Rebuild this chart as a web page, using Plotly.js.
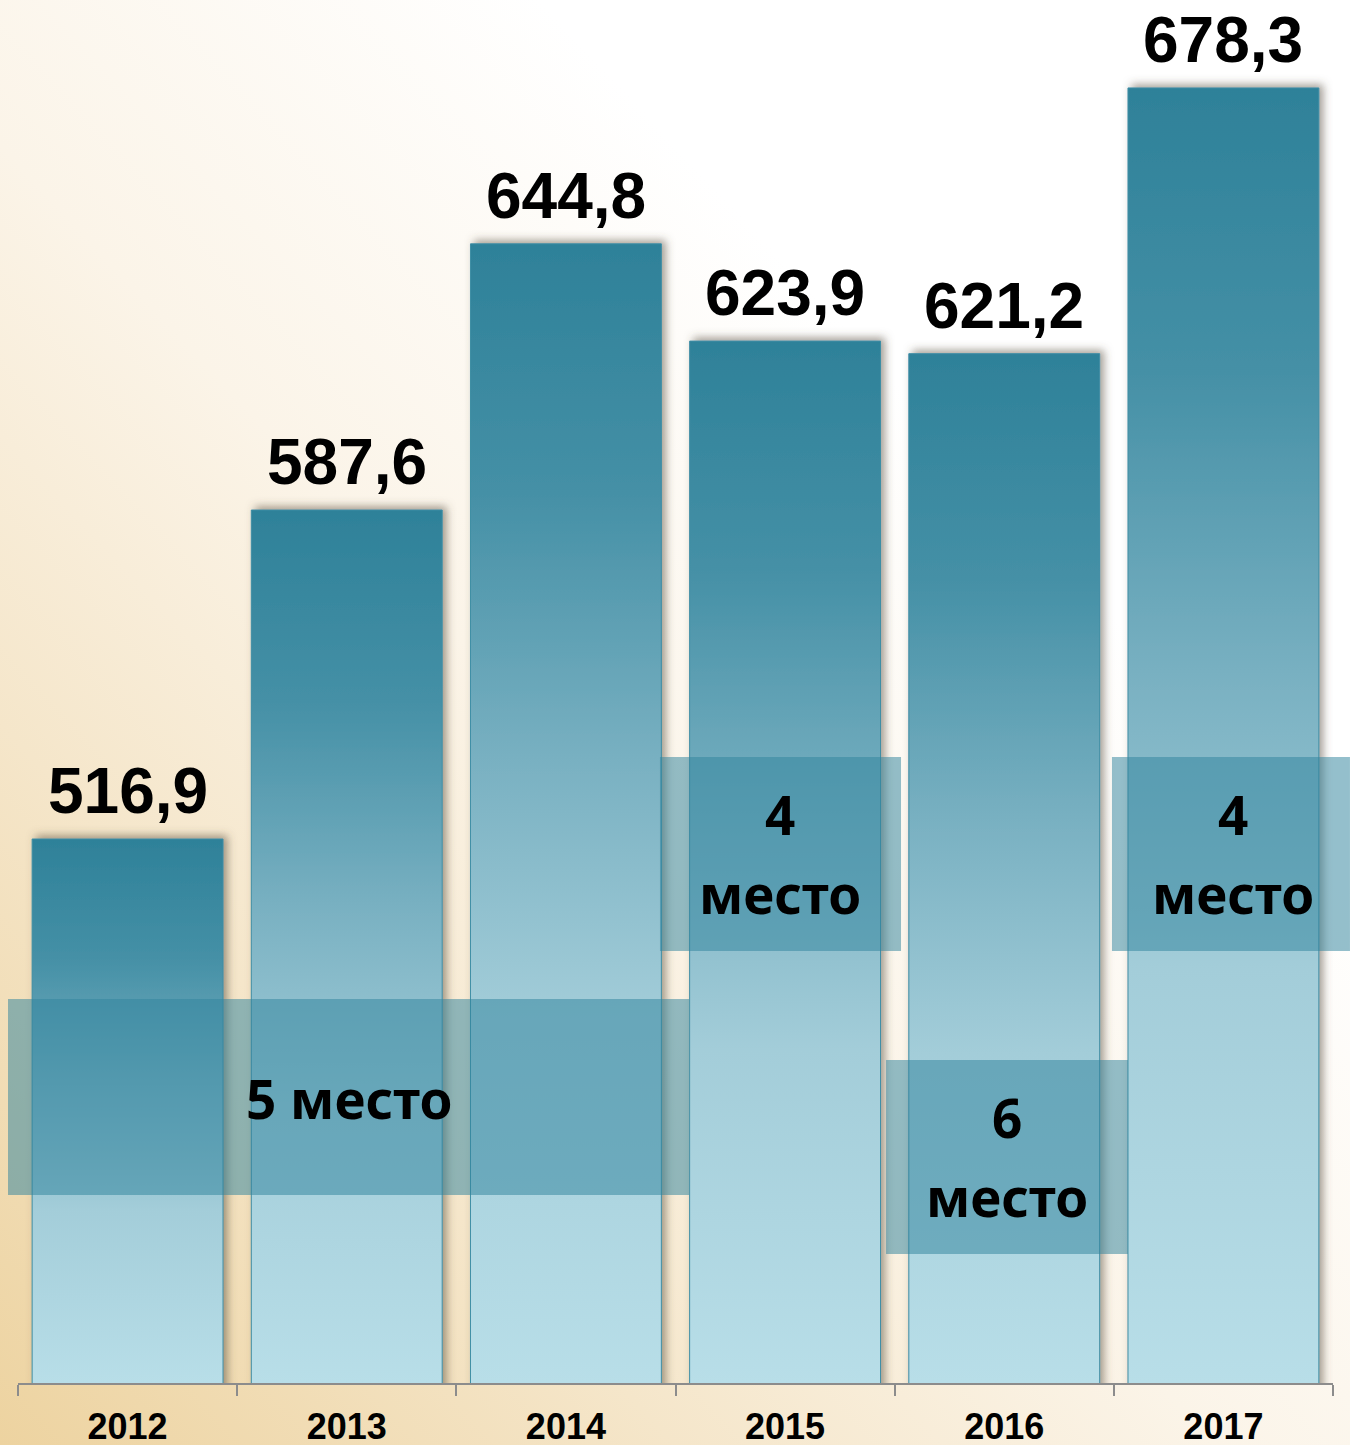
<!DOCTYPE html>
<html>
<head>
<meta charset="utf-8">
<script src="https://cdn.plot.ly/plotly-3.0.1.min.js"></script>
<style>
  html, body { margin: 0; padding: 0; }
  body {
    width: 1350px; height: 1445px; overflow: hidden;
    background: linear-gradient(to top right, #EDD3A0 0%, #F5E6CA 25%, #FBF4E8 45%, #FFFFFF 70%, #FFFFFF 100%);
  }
  #chart { width: 1350px; height: 1445px; }
</style>
</head>
<body>
<div id="chart"></div>
<script>
// ---- data ----
const years = ['2012', '2013', '2014', '2015', '2016', '2017'];
const values = [516.9, 587.6, 644.8, 623.9, 621.2, 678.3];
const rankTexts = ['5 место', '4<br>место', '6<br>место', '4<br>место'];

const fmt = v => v.toFixed(1).replace('.', ',');

const bar = {
  type: 'bar',
  x: years,
  y: values,
  marker: { color: '#2E8199', line: { color: '#3F8EA5', width: 1 } },
  hoverinfo: 'none',
  cliponaxis: true
};

// category axis: numeric x = category index
const valueAnnotations = years.map((yr, i) => ({
  x: i, y: values[i], xref: 'x', yref: 'y',
  text: fmt(values[i]),
  showarrow: false, yanchor: 'bottom', yshift: 10,
  font: { family: 'Liberation Sans, Arial, sans-serif', size: 64, color: '#000000', weight: 'bold' }
}));

// rank boxes (paper coordinates)
const boxes = [
  { x0: -0.0076, x1: 0.5103, y0: 0.1359, y1: 0.2777, tx: 0.2517 },
  { x0: 0.4882, x1: 0.6715, y0: 0.3124, y1: 0.4526, tx: 0.5795 },
  { x0: 0.6601, x1: 0.8441, y0: 0.0933, y1: 0.2336, tx: 0.7521 },
  { x0: 0.8319, x1: 1.0129, y0: 0.3124, y1: 0.4526, tx: 0.9240 }
];

const shapes = boxes.map(b => ({
  type: 'rect', xref: 'paper', yref: 'paper',
  x0: b.x0, x1: b.x1, y0: b.y0, y1: b.y1,
  fillcolor: 'rgba(50,132,158,0.52)', line: { width: 0 }, layer: 'above'
}));

const rankFont = { family: 'Noto Sans, Open Sans, sans-serif', size: 53, color: '#000000', weight: 'bold' };
const rankAnnotations = [];
boxes.forEach((b, i) => {
  const lines = rankTexts[i].split('<br>');
  const step = 79;
  lines.forEach((ln, k) => {
    rankAnnotations.push({
      xref: 'paper', yref: 'paper',
      x: b.tx, y: (b.y0 + b.y1) / 2,
      yshift: ((lines.length - 1) / 2 - k) * step + (lines.length > 1 ? 0 : -2),
      text: ln, showarrow: false,
      xanchor: 'center', yanchor: 'middle',
      font: rankFont
    });
  });
});

const layout = {
  width: 1350, height: 1445,
  margin: { l: 18, r: 17, t: 0, b: 62, pad: 0 },
  paper_bgcolor: 'rgba(0,0,0,0)',
  plot_bgcolor: 'rgba(0,0,0,0)',
  bargap: 0.129,
  showlegend: false,
  xaxis: {
    type: 'category',
    range: [-0.5, 5.5], autorange: false,
    showline: true, linecolor: '#8C8C8C', linewidth: 2,
    ticks: 'outside', tickson: 'boundaries', ticklen: 11, tickwidth: 2, tickcolor: '#8C8C8C',
    ticklabelstandoff: 11,
    tickfont: { family: 'Liberation Sans, Arial, sans-serif', size: 36, color: '#000000', weight: 'bold' },
    showgrid: false, zeroline: false, fixedrange: true
  },
  yaxis: {
    range: [400, 697.2], autorange: false,
    visible: false, showgrid: false, zeroline: false, fixedrange: true
  },
  shapes: shapes,
  annotations: valueAnnotations.concat(rankAnnotations)
};

Plotly.newPlot('chart', [bar], layout, { staticPlot: true, displayModeBar: false }).then(gd => {
  const NS = 'http://www.w3.org/2000/svg';
  const svg = gd.querySelector('.main-svg');
  let defs = svg.querySelector('defs');
  if (!defs) { defs = document.createElementNS(NS, 'defs'); svg.insertBefore(defs, svg.firstChild); }

  const stops = [['0', '#2E8199'], ['0.22', '#4590A6'], ['0.45', '#78B0C1'], ['0.68', '#A3CDD9'], ['1', '#B8DEE8']];
  const ya = gd._fullLayout.yaxis;
  const bottomPx = ya.l2p(ya.range[0]);   // visible foot of the bars (axis line)

  const filt = document.createElementNS(NS, 'filter');
  filt.setAttribute('id', 'barShadow');
  filt.setAttribute('x', '-10%'); filt.setAttribute('y', '-10%');
  filt.setAttribute('width', '125%'); filt.setAttribute('height', '120%');
  const ds = document.createElementNS(NS, 'feDropShadow');
  ds.setAttribute('dx', '4'); ds.setAttribute('dy', '-3');
  ds.setAttribute('stdDeviation', '4');
  ds.setAttribute('flood-color', '#5a5040'); ds.setAttribute('flood-opacity', '0.55');
  filt.appendChild(ds);
  defs.appendChild(filt);

  gd.querySelectorAll('.barlayer .point path').forEach((p, idx) => {
    const bb = p.getBBox();
    const grad = document.createElementNS(NS, 'linearGradient');
    const id = 'barGrad' + idx;
    grad.setAttribute('id', id);
    grad.setAttribute('gradientUnits', 'userSpaceOnUse');
    grad.setAttribute('x1', bb.x); grad.setAttribute('x2', bb.x);
    grad.setAttribute('y1', bb.y); grad.setAttribute('y2', bottomPx);
    stops.forEach(([o, c]) => {
      const s = document.createElementNS(NS, 'stop');
      s.setAttribute('offset', o); s.setAttribute('stop-color', c);
      grad.appendChild(s);
    });
    defs.appendChild(grad);
    p.style.fill = 'url(#' + id + ')';
    p.style.filter = 'url(#barShadow)';
  });
});
</script>
</body>
</html>
